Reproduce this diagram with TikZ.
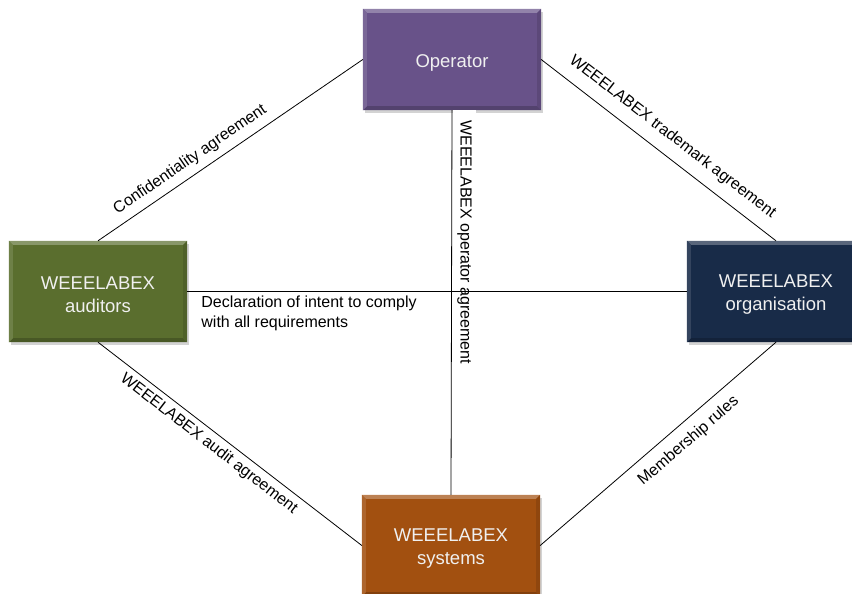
\documentclass[tikz,border=0pt]{standalone}
\usepackage{fontspec}
\setmainfont{Liberation Sans}
\usetikzlibrary{shadows,calc}
\definecolor{opc}{RGB}{104,82,137}
\definecolor{audc}{RGB}{90,110,46}
\definecolor{orgc}{RGB}{24,43,72}
\definecolor{sysc}{RGB}{162,80,16}
\newcommand{\bevelfx}[2]{%
  \fill[#2!72!white] (#1.north west) -- (#1.north east) -- ($(#1.north east)+(-4,4)$) -- ($(#1.north west)+(4,4)$) -- cycle;
  \fill[#2!80!black] (#1.south west) -- (#1.south east) -- ($(#1.south east)+(-4,-4)$) -- ($(#1.south west)+(4,-4)$) -- cycle;
  \fill[#2!88!white] (#1.north west) -- ($(#1.north west)+(4,4)$) -- ($(#1.south west)+(4,-4)$) -- (#1.south west) -- cycle;
  \fill[#2!88!black] (#1.north east) -- ($(#1.north east)+(-4,4)$) -- ($(#1.south east)+(-4,-4)$) -- (#1.south east) -- cycle;
}
\begin{document}
\begin{tikzpicture}[x=1pt,y=-1pt,
  box/.style={minimum width=178pt, minimum height=101pt, inner sep=0pt,
    drop shadow={shadow xshift=2pt,shadow yshift=-3pt,opacity=0.35}},
  boxtext/.style={text=white!94!black, align=center, inner sep=0pt,
    font=\fontsize{18.5}{23.5}\selectfont},
  conn/.style={draw=black, line width=0.8pt},
  lbl/.style={font=\fontsize{16}{20}\selectfont, inner sep=2pt}]
\useasboundingbox (0,0) rectangle (852,594);
\clip (0,0) rectangle (852,594);
\node[box, fill=opc] (op) at (452,59.5) {};
\node[box, fill=audc] (aud) at (98,291.5) {};
\node[box, fill=orgc] (org) at (776,291.5) {};
\node[box, fill=sysc] (sys) at (451,545.5) {};
\bevelfx{op}{opc}
\bevelfx{aud}{audc}
\bevelfx{org}{orgc}
\bevelfx{sys}{sysc}
\node[boxtext] (opt) at ($(op.center)+(0,3.5)$) {Operator};
\node[boxtext] (audt) at ($(aud.center)+(0,3)$) {WEEELABEX\\auditors};
\node[boxtext] (orgt) at ($(org.center)+(0,3)$) {WEEELABEX\\organisation};
\node[boxtext] (syst) at ($(sys.center)+(0,3)$) {WEEELABEX\\systems};
\draw[conn] (aud.north) -- node[lbl, sloped, above, pos=0.38, inner ysep=7pt] {Confidentiality agreement} (op.west);
\draw[conn] (op.east) -- node[lbl, sloped, above, pos=0.51, inner ysep=11pt] {WEEELABEX trademark agreement} (org.north);
\draw[conn] (aud.south) -- node[lbl, sloped, below, pos=0.45, inner ysep=5pt] {WEEELABEX audit agreement} (sys.west);
\draw[conn] (sys.east) -- node[lbl, sloped, below, pos=0.58, inner ysep=10pt] {Membership rules} (org.south);
\node[lbl, rotate=-90, fill=white, anchor=south west, inner xsep=10pt, inner ysep=4pt] (opl) at ($(op.south)+(1,0)$) {WEEELABEX operator agreement};
\draw[conn] (op.south) -- (sys.north);
\draw[conn] (aud.east) -- (org.west);
\node[lbl, anchor=north west, align=left] (decl) at ($(aud.east)+(12,2)$) {Declaration of intent to comply\\with all requirements};
\end{tikzpicture}
\end{document}
